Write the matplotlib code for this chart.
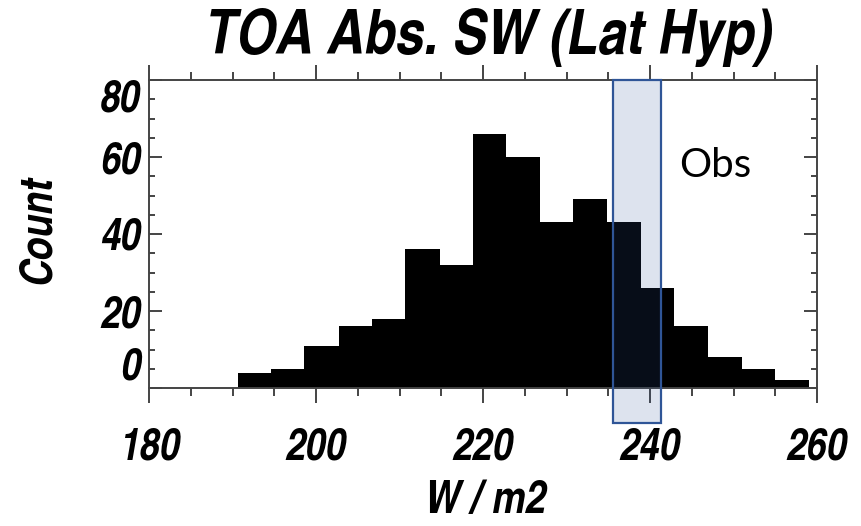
import matplotlib
matplotlib.use("Agg")
import matplotlib.pyplot as plt
from matplotlib.patches import Rectangle
from matplotlib.ticker import MultipleLocator

# histogram bins (W/m2) and counts
bin_edges = [190.6, 194.6, 198.6, 202.7, 206.7, 210.7, 214.8, 218.8, 222.8,
             226.8, 230.8, 234.9, 238.9, 242.9, 246.9, 251.0, 255.0, 259.0]
counts = [4, 5, 11, 16, 18, 36, 32, 66, 60, 43, 49, 43, 26, 16, 8, 5, 2]

# observed range
obs_lo, obs_hi = 235.6, 241.3

x_ticks = [180, 200, 220, 240, 260]
y_ticks = [0, 20, 40, 60, 80]

fnt = ["TeX Gyre Heros Cn", "Liberation Sans", "DejaVu Sans"]
axcol = "#444444"
W, H = 861, 526

fig = plt.figure(figsize=(W / 100, H / 100), dpi=100)
ax = fig.add_axes([149/W, 1 - 388/H, (817 - 149)/W, (388 - 80)/H])

widths = [b - a for a, b in zip(bin_edges[:-1], bin_edges[1:])]
ax.bar(bin_edges[:-1], counts, width=widths, align="edge", color="black",
       edgecolor="none", zorder=2)

# Obs box, runs below the axis
ax.add_patch(Rectangle((obs_lo, -9.1), obs_hi - obs_lo, 80 + 9.1,
                       facecolor="#2f5597", alpha=0.16, edgecolor="none",
                       clip_on=False, zorder=3))
ax.add_patch(Rectangle((obs_lo, -9.1), obs_hi - obs_lo, 80 + 9.1,
                       facecolor="none", edgecolor="#2f5597", linewidth=1.6,
                       clip_on=False, zorder=4))
ax.text(243.5, 54.8, "Obs", fontsize=29, family="Lato", color="black",
        ha="left", va="baseline")

ax.set_xlim(180, 260)
ax.set_ylim(0, 80)
ax.set_xticks(x_ticks)
ax.set_yticks(y_ticks)
ax.xaxis.set_minor_locator(MultipleLocator(5))
ax.yaxis.set_minor_locator(MultipleLocator(5))

for s in ax.spines.values():
    s.set_color(axcol)
    s.set_linewidth(1.4)

ax.tick_params(axis="x", which="both", direction="out", top=True, bottom=True,
               color=axcol, width=1.4)
ax.tick_params(axis="x", which="major", length=10.8, pad=18)
ax.tick_params(axis="x", which="minor", length=5.5)
ax.tick_params(axis="y", which="both", direction="in", left=True, right=True,
               color=axcol, width=1.4)
ax.tick_params(axis="y", which="major", length=9.5, pad=6)
ax.tick_params(axis="y", which="minor", length=4.5)

for lab in ax.get_xticklabels() + ax.get_yticklabels():
    lab.set_family(fnt)
    lab.set_fontsize(32)
    lab.set_fontweight("bold")
    lab.set_fontstyle("italic")

yt = ax.yaxis.get_major_ticks()
yt[0].label1.set_va("bottom")
yt[-1].label1.set_va("top")

txt = dict(family=fnt, fontweight="bold", style="italic", color="black")
fig.text(486/W, 1 - 513/H, "W / m2", fontsize=33, ha="center",
         va="baseline", **txt)
fig.text(50/W, 1 - 230/H, "Count", fontsize=33, ha="center", va="baseline",
         rotation=90, rotation_mode="anchor", **txt)
fig.text(489/W, 1 - 54/H, "TOA Abs. SW (Lat Hyp)", fontsize=45,
         ha="center", va="baseline", **txt)

fig.savefig("out.png", dpi=100)
